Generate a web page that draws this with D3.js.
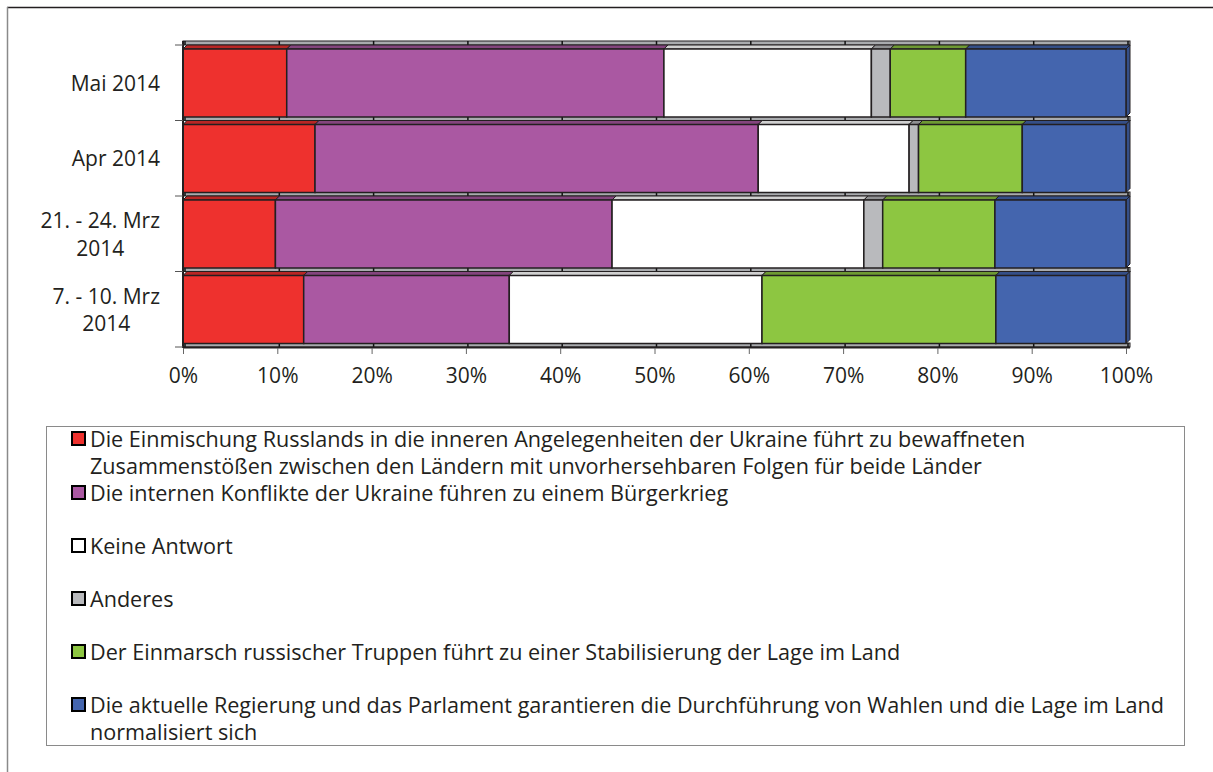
<!DOCTYPE html>
<html>
<head>
<meta charset="utf-8">
<script src="https://cdn.jsdelivr.net/npm/d3@7"></script>
<style>
  body { margin: 0; background: #fff; }
  text { font-family: "Open Sans", sans-serif; fill: #231f20; }
</style>
</head>
<body>
<svg id="chart"></svg>
<script>
// categories, top to bottom
const categories = ["Mai 2014", "Apr 2014", "21. - 24. Mrz 2014", "7. - 10. Mrz 2014"];
const categoryLines = [["Mai 2014"], ["Apr 2014"], ["21. - 24. Mrz", "2014"], ["7. - 10. Mrz", "2014"]];

// series values (%) per category
const einmischung = [11, 14, 9.8, 12.8];
const konflikte = [40, 47, 35.7, 21.8];
const keineAntwort = [22, 16, 26.7, 26.8];
const anderes = [2, 1, 2, 0];
const einmarsch = [8, 11, 11.9, 24.8];
const regierung = [17, 11, 13.9, 13.8];

const seriesKeys = ["einmischung", "konflikte", "keineAntwort", "anderes", "einmarsch", "regierung"];
const seriesColors = ["#ee312e", "#aa58a2", "#ffffff", "#b9babd", "#8dc641", "#4465ae"];
const seriesLabels = [
  ["Die Einmischung Russlands in die inneren Angelegenheiten der Ukraine führt zu bewaffneten",
   "Zusammenstößen zwischen den Ländern mit unvorhersehbaren Folgen für beide Länder"],
  ["Die internen Konflikte der Ukraine führen zu einem Bürgerkrieg"],
  ["Keine Antwort"],
  ["Anderes"],
  ["Der Einmarsch russischer Truppen führt zu einer Stabilisierung der Lage im Land"],
  ["Die aktuelle Regierung und das Parlament garantieren die Durchführung von Wahlen und die Lage im Land",
   "normalisiert sich"]
];
const xTicks = [0, 10, 20, 30, 40, 50, 60, 70, 80, 90, 100];

const fontSize = 21;
const legendFontSize = 21.6;
const width = 1213, height = 772;
const depth = 4;

const svg = d3.select("#chart").attr("width", width).attr("height", height);

// outer frame (only top and left visible)
svg.append("line").attr("x1", 7).attr("x2", width).attr("y1", 7.5).attr("y2", 7.5)
  .attr("stroke", "#231f20").attr("stroke-width", 1.5);
svg.append("line").attr("x1", 7.5).attr("x2", 7.5).attr("y1", 7).attr("y2", height)
  .attr("stroke", "#8a8a8a").attr("stroke-width", 1.5);

const table = categories.map((c, i) => ({
  cat: c,
  einmischung: einmischung[i],
  konflikte: konflikte[i],
  keineAntwort: keineAntwort[i],
  anderes: anderes[i],
  einmarsch: einmarsch[i],
  regierung: regierung[i]
}));

const stacked = d3.stack().keys(seriesKeys)(table);

var x = d3.scaleLinear().domain([0, 100]).range([183, 1126]);
var y = d3.scaleBand().domain(categories).range([45, 347]).padding(0);
const bw = y.bandwidth();

// gray back-wall strips between the bars
const boundaries = categories.map(c => y(c)).concat([y.range()[1]]);
const strips = svg.append("g");
boundaries.forEach(b => {
  strips.append("rect")
    .attr("x", x(0)).attr("y", b - depth)
    .attr("width", x(100) - x(0) + depth).attr("height", depth)
    .attr("fill", "#a9abae").attr("stroke", "#231f20").attr("stroke-width", 1);
  xTicks.forEach(v => {
    strips.append("line")
      .attr("x1", x(v) + depth / 2).attr("x2", x(v) + depth / 2)
      .attr("y1", b - depth).attr("y2", b)
      .attr("stroke", "#111").attr("stroke-width", 1.5);
  });
});

// bars
const bars = svg.append("g");
stacked.forEach((layer, si) => {
  const col = seriesColors[si];
  const top = si === 2 ? "#d0d0d0" : d3.color(col).darker(0.7).formatHex();
  layer.forEach(seg => {
    const x0 = x(seg[0]), x1 = x(seg[1]);
    if (x1 - x0 <= 0) return;
    const yF = y(seg.data.cat) + depth;
    const yB = y(seg.data.cat) + bw - 3.5;
    bars.append("path")
      .attr("d", `M${x0},${yF}L${x0 + depth},${yF - depth}L${x1 + depth},${yF - depth}L${x1},${yF}Z`)
      .attr("fill", top).attr("stroke", "#231f20").attr("stroke-width", 1);
    if (si === stacked.length - 1) {
      bars.append("path")
        .attr("d", `M${x1},${yF}L${x1 + depth},${yF - depth}L${x1 + depth},${yB - depth}L${x1},${yB}Z`)
        .attr("fill", d3.color(col).darker(0.7).formatHex()).attr("stroke", "#231f20").attr("stroke-width", 1);
    }
    bars.append("rect")
      .attr("x", x0).attr("y", yF)
      .attr("width", x1 - x0).attr("height", yB - yF)
      .attr("fill", col).attr("stroke", "#231f20").attr("stroke-width", 1.5);
  });
});

// axes
svg.append("line").attr("x1", x(0)).attr("x2", x(0)).attr("y1", 41).attr("y2", 348)
  .attr("stroke", "#231f20").attr("stroke-width", 2);
boundaries.forEach(b => {
  svg.append("line").attr("x1", x(0) - 8).attr("x2", x(0)).attr("y1", b).attr("y2", b)
    .attr("stroke", "#555").attr("stroke-width", 1);
});
svg.append("line").attr("x1", x(0)).attr("x2", x(100) + depth).attr("y1", 347.5).attr("y2", 347.5)
  .attr("stroke", "#231f20").attr("stroke-width", 2);

const xAxis = svg.append("g")
  .attr("transform", "translate(0,348)")
  .call(d3.axisBottom(x).tickValues(xTicks).tickFormat(d => d + "%").tickSizeInner(6).tickSizeOuter(0).tickPadding(14));
xAxis.select(".domain").remove();
xAxis.selectAll(".tick line").attr("stroke", "#666");
xAxis.selectAll(".tick text")
  .attr("font-size", fontSize).attr("font-family", "Open Sans").attr("fill", "#231f20");

// category labels, right aligned block, lines centred inside
const labelRight = 160;
categoryLines.forEach((lines, i) => {
  const g = svg.append("g");
  const cy = y(categories[i]) + bw / 2;
  const lineH = 27.5;
  const t = g.selectAll("text").data(lines).join("text")
    .attr("font-size", fontSize)
    .attr("text-anchor", "middle")
    .attr("y", (d, j) => cy + 8 - (lines.length - 1) * lineH / 2 + j * lineH)
    .text(d => d);
  let maxW = 0;
  t.each(function() { maxW = Math.max(maxW, this.getComputedTextLength()); });
  t.attr("x", labelRight - maxW / 2);
});

// legend
const legend = svg.append("g");
legend.append("rect")
  .attr("x", 46.5).attr("y", 426.5).attr("width", 1138).attr("height", 319)
  .attr("fill", "none").attr("stroke", "#8a8a8a").attr("stroke-width", 1);
const itemY = [439, 493, 546, 599, 652, 705];
seriesLabels.forEach((lines, i) => {
  legend.append("rect")
    .attr("x", 72).attr("y", itemY[i] - 7).attr("width", 13).attr("height", 13)
    .attr("fill", seriesColors[i]).attr("stroke", "#000").attr("stroke-width", 2);
  lines.forEach((ln, j) => {
    legend.append("text")
      .attr("x", 90).attr("y", itemY[i] + 8 + j * 27)
      .attr("font-size", legendFontSize)
      .text(ln);
  });
});
</script>
</body>
</html>
